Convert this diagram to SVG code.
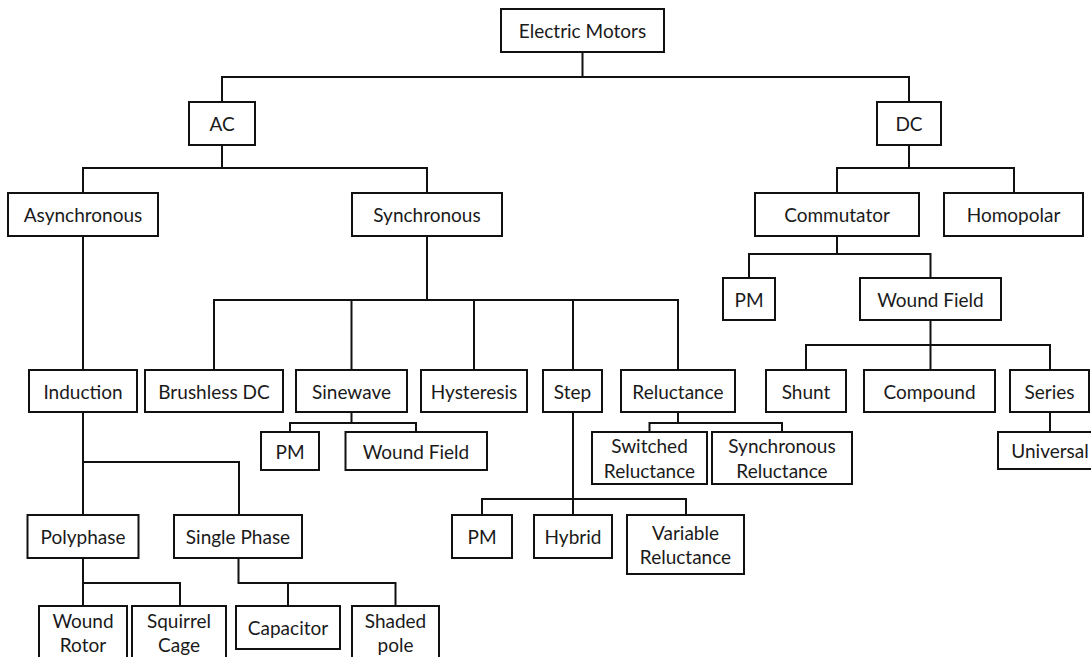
<svg xmlns="http://www.w3.org/2000/svg" width="1091" height="657" viewBox="0 0 1091 657">
<style>
.n rect{fill:#fff;stroke:#111;stroke-width:2}
.n text{font-family:Lato,"Open Sans","Liberation Sans",sans-serif;font-size:19px;fill:#1a1a1a;text-anchor:middle;dominant-baseline:central}
#connectors path{fill:none;stroke:#111;stroke-width:2}
</style>
<rect width="1091" height="657" fill="#fff"/>
<g id="connectors">
<path d="M582.5 52V77M222 102V77H909V102"/>
<path d="M222 145V168M83 193V168H427V193"/>
<path d="M909 145V168M837 193V168H1014V193"/>
<path d="M83 236V370"/>
<path d="M427 236V300M214 370V300H678V370M351.5 300V370M474 300V370M573 300V370"/>
<path d="M837 236V254M749 278V254H930.5V278"/>
<path d="M930.5 320V345M806 370V345H1050V370M930.5 345V370"/>
<path d="M1050 412V432"/>
<path d="M351.5 412V423M290 432V423H416V432"/>
<path d="M678 412V423M649.5 432V423H782V432"/>
<path d="M573 412V515M482 515V499H686V515"/>
<path d="M83 412V515M83 462H239V515"/>
<path d="M83 558V606M83 583H180V606"/>
<path d="M238.5 558V583H395.5V606M288 583V606"/>
</g>
<g id="electric-motors" class="n"><rect x="501" y="9" width="163" height="43"/><text x="582.5" y="30.5">Electric Motors</text></g>
<g id="ac" class="n"><rect x="189" y="102" width="66" height="43"/><text x="222" y="123.5">AC</text></g>
<g id="dc" class="n"><rect x="877" y="102" width="64" height="43"/><text x="909" y="123.5">DC</text></g>
<g id="asynchronous" class="n"><rect x="8" y="193" width="150" height="43"/><text x="83" y="214.5">Asynchronous</text></g>
<g id="synchronous" class="n"><rect x="352" y="193" width="150" height="43"/><text x="427" y="214.5">Synchronous</text></g>
<g id="commutator" class="n"><rect x="755" y="193" width="164" height="43"/><text x="837" y="214.5">Commutator</text></g>
<g id="homopolar" class="n"><rect x="944" y="193" width="139" height="43"/><text x="1013.5" y="214.5">Homopolar</text></g>
<g id="dc-pm" class="n"><rect x="723" y="278" width="52" height="42"/><text x="749" y="299">PM</text></g>
<g id="dc-wound-field" class="n"><rect x="860" y="278" width="141" height="42"/><text x="930.5" y="299">Wound Field</text></g>
<g id="induction" class="n"><rect x="29" y="370" width="108" height="42"/><text x="83" y="391">Induction</text></g>
<g id="brushless-dc" class="n"><rect x="145" y="370" width="138" height="42"/><text x="214" y="391">Brushless DC</text></g>
<g id="sinewave" class="n"><rect x="296" y="370" width="111" height="42"/><text x="351.5" y="391">Sinewave</text></g>
<g id="hysteresis" class="n"><rect x="421" y="370" width="106" height="42"/><text x="474" y="391">Hysteresis</text></g>
<g id="step" class="n"><rect x="543" y="370" width="59" height="42"/><text x="572.5" y="391">Step</text></g>
<g id="reluctance" class="n"><rect x="621" y="370" width="114" height="42"/><text x="678" y="391">Reluctance</text></g>
<g id="shunt" class="n"><rect x="766" y="370" width="80" height="42"/><text x="806" y="391">Shunt</text></g>
<g id="compound" class="n"><rect x="864" y="370" width="131" height="42"/><text x="929.5" y="391">Compound</text></g>
<g id="series" class="n"><rect x="1010" y="370" width="79" height="42"/><text x="1049.5" y="391">Series</text></g>
<g id="sine-pm" class="n"><rect x="261" y="432" width="58" height="38"/><text x="290" y="451">PM</text></g>
<g id="sine-wound-field" class="n"><rect x="345.5" y="432" width="141.5" height="38"/><text x="416" y="451">Wound Field</text></g>
<g id="switched-reluctance" class="n"><rect x="592" y="432" width="115" height="52"/><text x="649.5" y="445.5">Switched</text><text x="649.5" y="470">Reluctance</text></g>
<g id="synchronous-reluctance" class="n"><rect x="712" y="432" width="140" height="52"/><text x="782" y="445.5">Synchronous</text><text x="782" y="470">Reluctance</text></g>
<g id="universal" class="n"><rect x="998" y="432" width="100" height="37"/><text x="1050" y="450.5">Universal</text></g>
<g id="step-pm" class="n"><rect x="452" y="515" width="60" height="43"/><text x="482" y="536.5">PM</text></g>
<g id="hybrid" class="n"><rect x="534" y="515" width="78" height="43"/><text x="573" y="536.5">Hybrid</text></g>
<g id="variable-reluctance" class="n"><rect x="627" y="515" width="117" height="59"/><text x="685.5" y="532">Variable</text><text x="685.5" y="556.5">Reluctance</text></g>
<g id="polyphase" class="n"><rect x="27.5" y="515" width="111" height="43"/><text x="83" y="536.5">Polyphase</text></g>
<g id="single-phase" class="n"><rect x="174" y="515" width="128" height="43"/><text x="238" y="536.5">Single Phase</text></g>
<g id="wound-rotor" class="n"><rect x="39" y="606" width="88" height="60"/><text x="83" y="620">Wound</text><text x="83" y="644">Rotor</text></g>
<g id="squirrel-cage" class="n"><rect x="132" y="606" width="94" height="60"/><text x="179" y="620">Squirrel</text><text x="179" y="644">Cage</text></g>
<g id="capacitor" class="n"><rect x="236" y="606" width="104" height="43"/><text x="288" y="627.5">Capacitor</text></g>
<g id="shaded-pole" class="n"><rect x="352" y="606" width="87" height="60"/><text x="395.5" y="620">Shaded</text><text x="395.5" y="644">pole</text></g>
</svg>
